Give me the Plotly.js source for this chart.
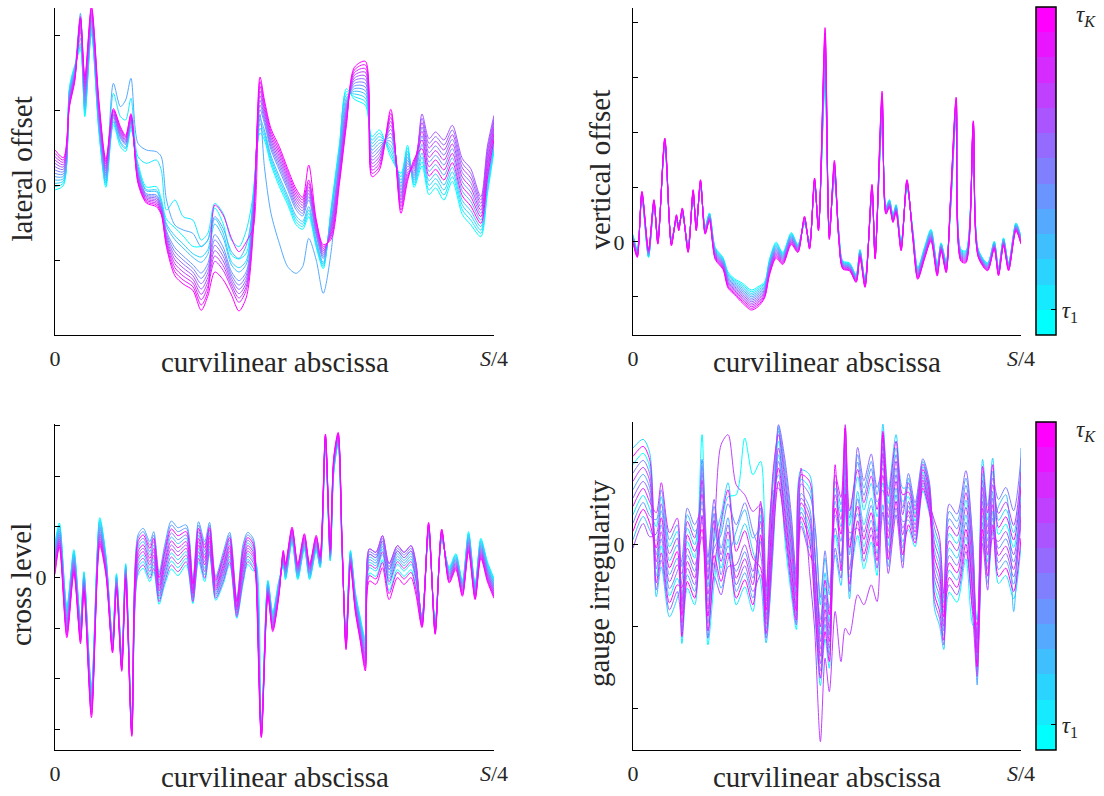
<!DOCTYPE html>
<html><head><meta charset="utf-8">
<script src="https://cdn.plot.ly/plotly-3.0.1.min.js"></script>
<style>html,body{margin:0;padding:0;background:#fff}#chart{width:1104px;height:796px}</style>
</head><body><div id="chart"></div>
<script>
// ---- series labels / colours (tau_1 ... tau_K, K = 13) ----
const seriesNames = ['τ1','τ2','τ3','τ4','τ5','τ6','τ7','τ8','τ9','τ10','τ11','τ12','τ13'];
const seriesColors = ['rgb(0,255,255)','rgb(21,234,255)','rgb(43,212,255)','rgb(64,191,255)','rgb(85,170,255)','rgb(106,149,255)','rgb(128,128,255)','rgb(149,106,255)','rgb(170,85,255)','rgb(191,64,255)','rgb(213,43,255)','rgb(234,21,255)','rgb(255,0,255)'];
const xTickLabels = ['0', '<i>S</i>/4'];
const tauFirst = '<i>τ</i><sub>1</sub>';
const tauLast = '<i>τ</i><sub><i>K</i></sub>';

// ---- lateral offset: abscissa (fraction of S/4) and one row of 13 values per abscissa ----
const latX = [0,0.019,0.033,0.045,0.058,0.068,0.083,0.100,0.116,0.133,0.149,0.161,0.173,0.189,0.208,0.231,0.242,0.254,0.273,0.292,0.314,0.333,0.348,0.364,0.383,0.402,0.419,0.436,0.452,0.467,0.477,0.492,0.511,0.530,0.549,0.564,0.578,0.595,0.611,0.629,0.648,0.664,0.682,0.707,0.722,0.739,0.765,0.788,0.803,0.818,0.836,0.852,0.867,0.886,0.905,0.928,0.947,0.970,0.985,1.000];
const latRows = [
[-15,-5,5,15,25,35,45,55,65,75,85,95,105],
[-2,5,12,19,26,33,40,47,54,61,68,75,82],
[295,290,285,280,275,270,265,260,255,250,245,240,235],
[359,355,351,347,343,339,335,331,327,323,319,315,311],
[406,415,424,440,515,500,460,469,478,487,496,505,500],
[205,215,225,235,245,255,265,275,285,295,305,315,325],
[453,460,467,474,481,488,495,502,509,516,523,530,537],
[157,165,173,181,189,197,205,213,221,229,237,245,253],
[-7,0,7,14,21,28,35,42,49,56,63,70,77],
[181,275,189,193,305,201,205,209,213,217,221,225,229],
[115,205,125,130,235,140,145,150,155,160,165,170,175],
[101,195,109,113,255,121,125,129,133,137,141,145,149],
[166,260,174,178,320,186,190,194,198,202,206,210,214],
[65,85,55,50,125,40,35,30,25,20,15,10,5],
[-6,65,-14,-18,105,-26,-30,-34,-38,-42,-46,-50,-54],
[-5,75,-15,-20,100,-30,-35,-40,-45,-50,-55,-60,-65],
[-41,45,-49,-53,85,-61,-65,-69,-73,-77,-81,-85,-89],
[-103,-75,-117,-124,-45,-138,-145,-152,-159,-166,-173,-180,-187],
[-128,-45,-152,-164,-120,-188,-200,-212,-224,-236,-248,-260,-272],
[-153,-95,-177,-189,-135,-213,-225,-237,-249,-261,-273,-285,-297],
[-184,-105,-206,-217,-145,-239,-250,-261,-272,-283,-294,-305,-316],
[-184,-165,-216,-232,-185,-264,-280,-296,-312,-328,-344,-360,-376],
[-166,-145,-194,-208,-165,-236,-250,-264,-278,-292,-306,-320,-334],
[-69,-55,-101,-117,-95,-149,-165,-181,-197,-213,-229,-60,-261],
[-116,-85,-144,-158,-130,-186,-200,-214,-228,-242,-256,-90,-284],
[-210,-165,-230,-240,-200,-260,-270,-280,-290,-300,-310,-160,-330],
[-222,-185,-248,-261,-220,-287,-300,-313,-326,-339,-352,-200,-378],
[-204,-135,-226,-237,-180,-259,-270,-281,-292,-303,-314,-170,-336],
[-15,-25,-35,-45,-55,-65,-75,-85,-95,-105,-115,-125,-135],
[156,170,184,198,212,226,240,254,268,282,296,310,324],
[135,145,155,165,55,185,195,205,215,225,235,245,255],
[61,70,79,88,-85,106,115,124,133,142,151,160,169],
[-5,5,15,25,-175,45,55,65,75,85,95,105,115],
[-59,-50,-41,-32,-245,-14,-5,4,13,22,31,40,49],
[-119,-110,-101,-92,-265,-74,-65,-56,-47,-38,-29,-20,-11],
[-133,-125,-117,-109,-245,-93,-85,-77,-69,-61,-53,-45,-37],
[-95,-85,-75,-65,-160,-45,-35,-25,-15,-5,5,15,60],
[-187,-180,-173,-166,-225,-152,-145,-138,-131,-124,-117,-110,-103],
[-251,-245,-239,-233,-325,-221,-215,-209,-203,-197,-191,-185,-179],
[-67,-75,-83,-91,-200,-107,-115,-123,-131,-139,-147,-155,-163],
[125,115,105,95,85,75,65,55,45,35,25,15,5],
[289,280,271,262,253,244,235,226,217,208,199,190,181],
[257,265,273,281,289,297,305,313,321,329,337,345,353],
[239,250,261,272,283,294,305,316,327,338,349,360,371],
[145,135,125,115,105,95,85,75,65,55,45,35,25],
[165,155,145,135,125,115,105,95,85,75,65,55,45],
[83,95,107,119,131,143,155,167,179,191,203,215,227],
[35,25,15,5,-5,-15,-25,-35,-45,-55,-65,-75,-85],
[119,110,101,92,83,74,65,56,47,38,29,20,11],
[-7,0,7,14,21,28,35,42,49,56,63,70,77],
[57,70,83,96,122,148,174,200,213,187,161,135,109],
[-29,-15,-1,13,41,69,97,125,139,111,83,55,27],
[-9,5,19,33,61,89,117,145,159,131,103,75,47],
[-45,-30,-15,0,30,60,90,120,135,105,75,45,15],
[11,25,39,53,81,109,137,165,179,151,123,95,67],
[-89,-75,-61,-47,-19,9,37,65,79,51,23,-5,-33],
[-119,-105,-91,-77,-49,-21,7,35,49,21,-7,-35,-63],
[-155,-145,-135,-125,-105,-85,-65,-45,-35,-55,-75,-95,-115],
[-27,-15,-3,9,33,57,81,105,117,93,69,45,21],
[101,110,119,128,146,164,182,200,209,191,173,155,137]
];

// ---- vertical offset ----
const vertX = [0,0.011,0.023,0.040,0.054,0.064,0.082,0.099,0.112,0.118,0.127,0.142,0.155,0.163,0.174,0.186,0.197,0.212,0.232,0.245,0.262,0.283,0.305,0.322,0.339,0.352,0.369,0.386,0.408,0.425,0.442,0.455,0.468,0.478,0.495,0.506,0.519,0.530,0.541,0.558,0.575,0.585,0.598,0.616,0.624,0.642,0.652,0.661,0.670,0.678,0.691,0.706,0.721,0.734,0.751,0.768,0.784,0.794,0.807,0.818,0.833,0.845,0.858,0.877,0.890,0.914,0.931,0.942,0.955,0.968,0.987,1.000];
const vertRows = [
[22,20,18,16,14,12,10,8,6,4,2,0,-2],
[-23,-25,-27,-29,-31,-33,-35,-37,-39,-41,-43,-45,-47],
[128,130,132,134,136,138,140,142,144,146,148,150,152],
[-47,-45,-43,-41,-39,-37,-35,-33,-31,-29,-27,-25,-23],
[103,105,107,109,111,113,115,117,119,121,123,125,127],
[17,15,13,11,9,7,5,3,1,-1,-3,-5,-7],
[288,290,292,294,296,298,300,302,304,306,308,310,312],
[12,10,8,6,4,2,0,-2,-4,-6,-8,-10,-12],
[58,60,62,64,66,68,70,72,74,76,78,80,82],
[57,55,53,51,49,47,45,43,41,39,37,35,33],
[78,80,82,84,86,88,90,92,94,96,98,100,102],
[-8,-10,-12,-14,-16,-18,-20,-22,-24,-26,-28,-30,-32],
[133,135,137,139,141,143,145,147,149,151,153,155,157],
[57,55,53,51,49,47,45,43,41,39,37,35,33],
[163,165,167,169,171,173,175,177,179,181,183,185,187],
[47,45,43,41,39,37,35,33,31,29,27,25,23],
[87,85,83,81,79,77,75,73,71,69,67,65,63],
[-17,-20,-23,-26,-29,-32,-35,-38,-41,-44,-47,-50,-53],
[-47,-50,-53,-56,-59,-62,-65,-68,-71,-74,-77,-80,-83],
[-91,-95,-99,-103,-107,-111,-115,-119,-123,-127,-131,-135,-139],
[-111,-115,-119,-123,-127,-131,-135,-139,-143,-147,-151,-155,-159],
[-125,-130,-135,-140,-145,-150,-155,-160,-165,-170,-175,-180,-185],
[-145,-150,-155,-160,-165,-170,-175,-180,-185,-190,-195,-200,-205],
[-135,-140,-145,-150,-155,-160,-165,-170,-175,-180,-185,-190,-195],
[-121,-125,-129,-133,-137,-141,-145,-149,-153,-157,-161,-165,-169],
[-51,-55,-59,-63,-67,-71,-75,-79,-83,-87,-91,-95,-99],
[-1,-5,-9,-13,-17,-21,-25,-29,-33,-37,-41,-45,-49],
[-32,-35,-38,-41,-44,-47,-50,-53,-56,-59,-62,-65,-68],
[28,25,22,19,16,13,10,7,4,1,-2,-5,-8],
[-8,-10,-12,-14,-16,-18,-20,-22,-24,-26,-28,-30,-32],
[53,55,57,59,61,63,65,67,69,71,73,75,77],
[2,0,-2,-4,-6,-8,-10,-12,-14,-16,-18,-20,-22],
[168,170,172,174,176,178,180,182,184,186,188,190,192],
[57,55,53,51,49,47,45,43,41,39,37,35,33],
[476,490,504,518,532,546,560,574,588,602,616,630,644],
[43,40,37,34,31,28,25,22,19,16,13,10,7],
[185,190,195,200,205,210,215,220,225,230,235,240,245],
[37,35,33,31,29,27,25,23,21,19,17,15,13],
[-58,-60,-62,-64,-66,-68,-70,-72,-74,-76,-78,-80,-82],
[-63,-65,-67,-69,-71,-73,-75,-77,-79,-81,-83,-85,-87],
[-98,-100,-102,-104,-106,-108,-110,-112,-114,-116,-118,-120,-122],
[-23,-25,-27,-29,-31,-33,-35,-37,-39,-41,-43,-45,-47],
[-113,-115,-117,-119,-121,-123,-125,-127,-129,-131,-133,-135,-137],
[137,140,143,146,149,152,155,158,161,164,167,170,173],
[-28,-30,-32,-34,-36,-38,-40,-42,-44,-46,-48,-50,-52],
[357,365,373,381,389,397,405,413,421,429,437,445,453],
[107,105,103,101,99,97,95,93,91,89,87,85,83],
[127,125,123,121,119,117,115,113,111,109,107,105,103],
[82,80,78,76,74,72,70,68,66,64,62,60,58],
[112,110,108,106,104,102,100,98,96,94,92,90,88],
[-3,-5,-7,-9,-11,-13,-15,-17,-19,-21,-23,-25,-27],
[163,165,167,169,171,173,175,177,179,181,183,185,187],
[37,35,33,31,29,27,25,23,21,19,17,15,13],
[-77,-80,-83,-86,-89,-92,-95,-98,-101,-104,-107,-110,-113],
[-17,-20,-23,-26,-29,-32,-35,-38,-41,-44,-47,-50,-53],
[38,35,32,29,26,23,20,17,14,11,8,5,2],
[-67,-70,-73,-76,-79,-82,-85,-88,-91,-94,-97,-100,-103],
[-3,-5,-7,-9,-11,-13,-15,-17,-19,-21,-23,-25,-27],
[-57,-60,-63,-66,-69,-72,-75,-78,-81,-84,-87,-90,-93],
[87,90,93,96,99,102,105,108,111,114,117,120,123],
[375,380,385,390,395,400,405,410,415,420,425,430,435],
[-22,-25,-28,-31,-34,-37,-40,-43,-46,-49,-52,-55,-58],
[-27,-30,-33,-36,-39,-42,-45,-48,-51,-54,-57,-60,-63],
[316,320,324,328,332,336,340,344,348,352,356,360,364],
[-23,-25,-27,-29,-31,-33,-35,-37,-39,-41,-43,-45,-47],
[-63,-65,-67,-69,-71,-73,-75,-77,-79,-81,-83,-85,-87],
[2,0,-2,-4,-6,-8,-10,-12,-14,-16,-18,-20,-22],
[-78,-80,-82,-84,-86,-88,-90,-92,-94,-96,-98,-100,-102],
[12,10,8,6,4,2,0,-2,-4,-6,-8,-10,-12],
[-63,-65,-67,-69,-71,-73,-75,-77,-79,-81,-83,-85,-87],
[57,55,53,51,49,47,45,43,41,39,37,35,33],
[17,15,13,11,9,7,5,3,1,-1,-3,-5,-7]
];

// ---- cross level ----
const crossX = [0,0.010,0.027,0.043,0.058,0.066,0.083,0.102,0.116,0.131,0.140,0.152,0.161,0.175,0.189,0.201,0.216,0.225,0.237,0.250,0.265,0.280,0.299,0.314,0.327,0.341,0.352,0.366,0.383,0.398,0.414,0.428,0.439,0.452,0.458,0.470,0.485,0.496,0.510,0.520,0.525,0.540,0.553,0.568,0.580,0.595,0.604,0.616,0.627,0.635,0.645,0.654,0.663,0.673,0.684,0.695,0.707,0.716,0.731,0.746,0.761,0.780,0.795,0.811,0.822,0.836,0.851,0.866,0.881,0.898,0.913,0.928,0.942,0.957,0.970,0.985,1.000];
const crossRows = [
[105,97,89,81,73,65,57,49,41,33,25,17,9],
[163,157,151,145,139,133,127,121,115,109,103,97,91],
[-85,-93,-101,-109,-117,-125,-133,-141,-149,-157,-165,-173,-181],
[83,77,71,65,59,53,47,41,35,29,23,17,11],
[-127,-133,-139,-145,-151,-157,-163,-169,-175,-181,-187,-193,-199],
[17,12,7,2,-3,-8,-13,-18,-23,-28,-33,-38,-43],
[-325,-333,-341,-349,-357,-365,-373,-381,-389,-397,-405,-413,-421],
[179,172,165,158,151,144,137,130,123,116,109,102,95],
[67,62,57,52,47,42,37,32,27,22,17,12,7],
[-179,-183,-187,-191,-195,-199,-203,-207,-211,-215,-219,-223,-227],
[11,7,3,-1,-5,-9,-13,-17,-21,-25,-29,-33,-37],
[-234,-238,-242,-246,-250,-254,-258,-262,-266,-270,-274,-278,-282],
[41,37,33,29,25,21,17,13,9,5,1,-3,-7],
[-429,-433,-437,-441,-445,-449,-453,-457,-461,-465,-469,-473,-477],
[7,27,47,87,127,117,97,67,37,17,57,77,107],
[27,47,67,107,147,137,117,87,57,37,77,97,127],
[-13,7,27,67,107,97,77,47,17,-3,37,57,87],
[17,37,57,97,137,127,107,77,47,27,67,87,117],
[-81,-65,-49,-17,15,7,-9,-33,-57,-73,-41,-25,-1],
[-23,-3,17,57,97,87,67,37,7,-13,27,47,77],
[25,49,73,121,169,157,133,97,61,37,85,109,145],
[5,29,53,101,149,137,113,77,41,17,65,89,125],
[37,57,77,117,157,147,127,97,67,47,87,107,137],
[-79,-67,-55,-31,-7,-13,-25,-43,-61,-73,-49,-37,-19],
[47,67,87,127,167,157,137,107,77,57,97,117,147],
[-13,7,27,67,107,97,77,47,17,-3,37,57,87],
[69,85,101,133,165,157,141,117,93,77,109,125,149],
[-69,-57,-45,-21,3,-3,-15,-33,-51,-63,-39,-27,-9],
[-21,-5,11,43,75,67,51,27,3,-13,19,35,59],
[39,55,71,103,135,127,111,87,63,47,79,95,119],
[-123,-113,-103,-83,-63,-68,-78,-93,-108,-118,-98,-88,-73],
[-23,-3,17,57,97,87,67,37,7,-13,27,47,77],
[39,55,71,103,135,127,111,87,63,47,79,95,119],
[19,35,51,83,115,107,91,67,43,27,59,75,99],
[41,37,33,29,25,21,17,13,9,5,1,-3,-7],
[-445,-448,-451,-454,-457,-460,-463,-466,-469,-472,-475,-478,-481],
[-9,-13,-17,-21,-25,-29,-33,-37,-41,-45,-49,-53,-57],
[-103,-108,-113,-118,-123,-128,-133,-138,-143,-148,-153,-158,-163],
[-9,-13,-17,-21,-25,-29,-33,-37,-41,-45,-49,-53,-57],
[33,37,41,45,49,53,57,61,65,69,73,77,81],
[-7,-3,1,5,9,13,17,21,25,29,33,37,41],
[103,107,111,115,119,123,127,131,135,139,143,147,151],
[-7,-3,1,5,9,13,17,21,25,29,33,37,41],
[83,87,91,95,99,103,107,111,115,119,123,127,131],
[-7,-3,1,5,9,13,17,21,25,29,33,37,41],
[78,82,86,90,94,98,102,106,110,114,118,122,126],
[29,32,35,38,41,44,47,50,53,56,59,62,65],
[394,397,400,403,406,409,412,415,418,421,424,427,430],
[49,52,55,58,61,64,67,70,73,76,79,82,85],
[313,317,321,325,329,333,337,341,345,349,353,357,361],
[399,402,405,408,411,414,417,420,423,426,429,432,435],
[69,72,75,78,81,84,87,90,93,96,99,102,105],
[-169,-173,-177,-181,-185,-189,-193,-197,-201,-205,-209,-213,-217],
[81,77,73,69,65,61,57,53,49,45,41,37,33],
[-43,-48,-53,-58,-63,-68,-73,-78,-83,-88,-93,-98,-103],
[-117,-123,-129,-135,-141,-147,-153,-159,-165,-171,-177,-183,-189],
[-185,-193,-201,-209,-217,-225,-233,-241,-249,-257,-265,-273,-281],
[13,29,45,61,69,53,77,85,69,85,37,5,-11],
[3,19,35,51,59,43,67,75,59,75,27,-5,-21],
[53,69,85,101,109,93,117,125,109,125,77,45,29],
[-40,-22,-4,14,23,5,32,41,23,41,-13,-49,-67],
[23,39,55,71,79,63,87,95,79,95,47,15,-1],
[3,19,35,51,59,43,67,75,59,75,27,-5,-21],
[23,39,55,71,79,63,87,95,79,95,47,15,-1],
[-27,-11,5,21,29,13,37,45,29,45,-3,-35,-51],
[-115,-118,-121,-124,-127,-130,-133,-136,-139,-142,-145,-148,-151],
[129,132,135,138,141,144,147,150,153,156,159,162,165],
[-135,-138,-141,-144,-147,-150,-153,-156,-159,-162,-165,-168,-171],
[109,112,115,118,121,124,127,130,133,136,139,142,145],
[31,27,23,19,15,11,7,3,-1,-5,-9,-13,-17],
[71,67,63,59,55,51,47,43,39,35,31,27,23],
[-9,-13,-17,-21,-25,-29,-33,-37,-41,-45,-49,-53,-57],
[137,132,127,122,117,112,107,102,97,92,87,82,77],
[-19,-23,-27,-31,-35,-39,-43,-47,-51,-55,-59,-63,-67],
[117,112,107,102,97,92,87,82,77,72,67,62,57],
[47,42,37,32,27,22,17,12,7,2,-3,-8,-13],
[-3,-8,-13,-18,-23,-28,-33,-38,-43,-48,-53,-58,-63]
];

// ---- gauge irregularity ----
const gaugeX = [0,0.026,0.043,0.060,0.073,0.094,0.114,0.126,0.140,0.159,0.178,0.193,0.209,0.227,0.245,0.266,0.288,0.309,0.329,0.343,0.361,0.375,0.391,0.408,0.421,0.433,0.455,0.468,0.483,0.495,0.506,0.521,0.536,0.547,0.558,0.579,0.595,0.614,0.629,0.644,0.658,0.678,0.695,0.710,0.727,0.747,0.764,0.777,0.790,0.801,0.815,0.835,0.858,0.876,0.887,0.901,0.914,0.927,0.942,0.961,0.981,1.000];
const gaugeRows = [
[240,90,290,15,165,65,215,140,-10,190,115,265,40],
[274,148,316,85,211,127,253,190,64,232,169,295,106],
[234,108,276,45,171,87,213,150,24,192,129,255,66],
[-93,54,-156,12,-30,75,-72,-135,33,-51,96,-114,-9],
[-3,144,-66,102,60,165,18,-45,123,39,186,-24,81],
[-153,-6,-216,-48,-90,15,-132,-195,-27,-111,36,-174,-69],
[-100,40,-160,0,-40,60,-80,-140,20,-60,80,-120,-20],
[-149,-296,-107,-65,-254,-191,-44,-233,-170,-86,-212,-128,-275],
[10,-130,50,90,-90,-30,110,-70,-10,70,-50,30,-110],
[-40,-180,0,40,-140,-80,60,-120,-60,20,-100,-20,-160],
[330,172,130,67,235,214,109,256,25,151,193,46,88],
[-300,-126,-170,-236,-60,-82,-192,-38,-280,-148,-104,-258,-214],
[-116,52,10,-53,115,94,-11,136,-95,31,73,-74,-32],
[50,-70,90,-130,-10,-90,30,-30,-150,300,-50,70,-110],
[144,18,186,-45,81,-3,123,60,-66,330,39,165,-24],
[150,-180,0,40,-140,-80,60,-120,-60,180,-100,-20,-160],
[320,-126,63,105,-84,-21,126,-63,0,150,-42,42,-105],
[210,-200,-20,20,-160,-100,40,-140,-80,100,-120,-40,-180],
[250,90,-110,50,10,110,-30,-90,70,120,130,-70,30],
[-252,-154,-294,-182,-210,-140,-238,-280,-168,-224,-126,-266,-196],
[40,180,-20,140,100,200,60,0,160,80,220,20,120],
[355,310,270,210,350,340,250,360,170,290,330,190,230],
[20,180,140,80,240,220,120,260,40,160,200,60,100],
[-150,10,-30,-90,70,50,-50,90,-130,-10,30,-110,-70],
[-254,-142,-170,-212,-100,-114,-184,-86,-240,-156,-128,-226,-198],
[196,112,224,70,154,98,182,140,56,230,126,210,84],
[170,50,210,-10,110,30,150,90,-30,-80,70,190,10],
[-38,-192,6,50,-148,-82,72,-126,-60,-250,-104,-16,-170],
[-268,-422,-224,-180,-378,-312,-158,-356,-290,-590,-334,-246,-400],
[-128,-282,-84,-40,-238,-172,-18,-216,-150,-340,-194,-106,-260],
[-230,-370,-190,-150,-330,-270,-130,-310,-250,-440,-290,-210,-350],
[30,170,-30,130,90,190,50,-10,150,-200,210,240,110],
[-56,98,-122,54,10,120,-34,-100,76,-350,142,-78,32],
[174,328,108,284,240,350,196,130,306,-250,360,152,350],
[-96,58,-162,14,-30,80,-74,-140,36,-270,102,-118,-8],
[28,204,160,94,270,248,138,292,50,-150,226,72,116],
[-72,104,60,-6,170,148,38,192,-50,-180,126,-28,16],
[8,184,140,74,250,228,118,272,30,-120,206,52,96],
[-92,84,40,-26,150,128,18,172,-70,-170,106,-48,-4],
[318,186,362,120,252,164,296,230,98,274,208,340,330],
[124,-2,166,-65,61,-23,103,40,-86,82,19,145,-44],
[290,170,330,110,230,150,270,210,90,250,190,310,130],
[130,10,170,-50,70,-10,110,50,-70,90,30,150,-30],
[144,46,172,200,74,116,214,88,130,186,102,158,60],
[71,-6,93,115,16,49,126,27,60,104,38,82,5],
[218,162,234,250,178,202,258,186,210,242,194,226,170],
[148,92,164,180,108,132,188,116,140,172,124,156,100],
[-126,28,-192,-16,-60,50,-104,-170,6,-82,72,-148,-38],
[-176,-22,-242,-66,-110,0,-154,-220,-44,-132,22,-198,-88],
[-272,-174,-314,-202,-230,-160,-258,-300,-188,-244,-146,-286,-216],
[-142,34,-10,-76,100,78,-32,122,-120,12,56,-98,-54],
[-172,4,-40,-106,70,48,-62,92,-150,-18,26,-128,-84],
[-42,134,90,24,200,178,68,222,-20,112,156,2,46],
[-242,-66,-110,-176,0,-22,-132,2,-220,-88,-44,-198,-154],
[-254,-338,-226,-380,-420,-352,-268,-310,-394,-282,-324,-240,-366],
[214,88,256,25,151,67,193,130,4,172,109,235,46],
[74,-52,116,-115,11,-73,53,-10,-136,32,-31,95,-94],
[220,100,260,40,160,80,200,140,20,180,120,240,60],
[31,-116,73,115,-74,-11,136,-53,10,94,-32,52,-95],
[62,-92,106,150,-48,18,172,-26,40,128,-4,84,-70],
[-8,-162,36,-200,-118,-52,102,-96,-30,58,-74,14,-140],
[152,-2,196,240,290,108,262,64,130,218,86,174,20]
];

// ---- unlabelled y tick positions (zero is the only labelled tick) ----
const latTicks = [-225, 225, 450];
const vertTicks = [-164.6, 164.6, 329.2, 493.8, 658.4];
const crossTicks = [-456, -304, -152, 152, 304, 456];
const gaugeTicks = [-492, -246, 246];

const FONT = '"Liberation Serif", "Times New Roman", Times, serif';
const W = 1104, H = 796;
const TXT = '#262626';

const panels = [
  {x: latX, rows: latRows, ax: '', ticks: latTicks, range: [-450, 531], px: [55, 494], py: [8, 335], title: 'lateral offset', tx: 21},
  {x: vertX, rows: vertRows, ax: '2', ticks: vertTicks, range: [-280, 703], px: [633, 1021], py: [8, 335], title: 'vertical offset', tx: 599},
  {x: crossX, rows: crossRows, ax: '3', ticks: crossTicks, range: [-518, 460], px: [55, 494], py: [424, 750], title: 'cross level', tx: 21},
  {x: gaugeX, rows: gaugeRows, ax: '4', ticks: gaugeTicks, range: [-615, 368], px: [633, 1021], py: [422, 750], title: 'gauge irregularity', tx: 599}
];

const traces = [];
const layout = {
  width: W, height: H, margin: {l: 0, r: 0, t: 0, b: 0},
  paper_bgcolor: '#fff', plot_bgcolor: '#fff', showlegend: false,
  hovermode: false, font: {family: FONT, color: TXT}, annotations: []
};

panels.forEach(p => {
  for (let k = 0; k < seriesNames.length; k++) {
    traces.push({
      type: 'scatter', mode: 'lines', name: seriesNames[k],
      x: p.x, y: p.rows.map(r => r[k]),
      xaxis: 'x' + p.ax, yaxis: 'y' + p.ax,
      line: {color: seriesColors[k], width: 1, shape: 'spline', smoothing: 0.8},
      hoverinfo: 'skip'
    });
  }
  const xd = [p.px[0] / W, p.px[1] / W];
  const yd = [1 - p.py[1] / H, 1 - p.py[0] / H];
  layout['xaxis' + p.ax] = {
    domain: xd, anchor: 'y' + p.ax, range: [0, 1], showline: true, linecolor: '#000', linewidth: 1,
    ticks: 'inside', ticklen: 5, tickcolor: '#000', tickwidth: 1,
    tickvals: [0, 1], ticktext: xTickLabels, tickfont: {family: FONT, size: 22, color: TXT},
    ticklabelstandoff: 4, showgrid: false, zeroline: false, fixedrange: true
  };
  layout['yaxis' + p.ax] = {
    domain: yd, anchor: 'x' + p.ax, range: p.range, showline: true, linecolor: '#000', linewidth: 1,
    ticks: 'inside', ticklen: 5, tickcolor: '#000', tickwidth: 1,
    tickvals: [0], ticktext: ['0'],
    minor: {tickmode: 'array', tickvals: p.ticks, ticks: 'inside', ticklen: 5, tickcolor: '#000', tickwidth: 1, showgrid: false},
    tickfont: {family: FONT, size: 22, color: TXT}, ticklabelstandoff: 3,
    showgrid: false, zeroline: false, fixedrange: true
  };
  layout.annotations.push({
    text: p.title, xref: 'paper', yref: 'paper', x: p.tx / W, y: 1 - ((p.py[0] + p.py[1]) / 2 - 2) / H,
    textangle: -90, showarrow: false, xanchor: 'center', yanchor: 'middle',
    font: {family: FONT, size: 29, color: TXT}
  });
  layout.annotations.push({
    text: 'curvilinear abscissa', xref: 'paper', yref: 'paper',
    x: (p.px[0] + p.px[1]) / 2 / W, y: 1 - (p.py[1] + 27) / H,
    showarrow: false, xanchor: 'center', yanchor: 'middle',
    font: {family: FONT, size: 29, color: TXT}
  });
});

// discrete "cool" colour bar, one band per tau
const stepped = [];
seriesColors.forEach((c, j) => {
  stepped.push([j / seriesColors.length, c]);
  stepped.push([(j + 1) / seriesColors.length, c]);
});
[{ax: '2', py: [7, 335]}, {ax: '4', py: [422, 750]}].forEach(cb => {
  traces.push({
    type: 'scatter', mode: 'markers', x: [null], y: [null],
    xaxis: 'x' + cb.ax, yaxis: 'y' + cb.ax, hoverinfo: 'skip', showlegend: false,
    marker: {
      color: [1], cmin: 0, cmax: seriesColors.length, colorscale: stepped, showscale: true,
      colorbar: {
        x: 1036 / W, xanchor: 'left', xpad: 0, ypad: 0,
        y: 1 - (cb.py[0] + cb.py[1]) / 2 / H, yanchor: 'middle',
        len: cb.py[1] - cb.py[0], lenmode: 'pixels', thickness: 20, thicknessmode: 'pixels',
        outlinewidth: 1.5, outlinecolor: '#000', bgcolor: 'rgba(0,0,0,0)',
        tickmode: 'array', tickvals: [1], ticktext: [tauFirst],
        ticks: 'inside', ticklen: 5, tickcolor: '#000',
        tickfont: {family: FONT, size: 23, color: TXT}
      }
    }
  });
  layout.annotations.push({
    text: tauLast, xref: 'paper', yref: 'paper', x: 1074 / W, y: 1 - (cb.py[0] + 9) / H,
    showarrow: false, xanchor: 'left', yanchor: 'middle',
    font: {family: FONT, size: 23, color: TXT}
  });
});

Plotly.newPlot('chart', traces, layout, {staticPlot: true, displayModeBar: false});
</script>
</body></html>
